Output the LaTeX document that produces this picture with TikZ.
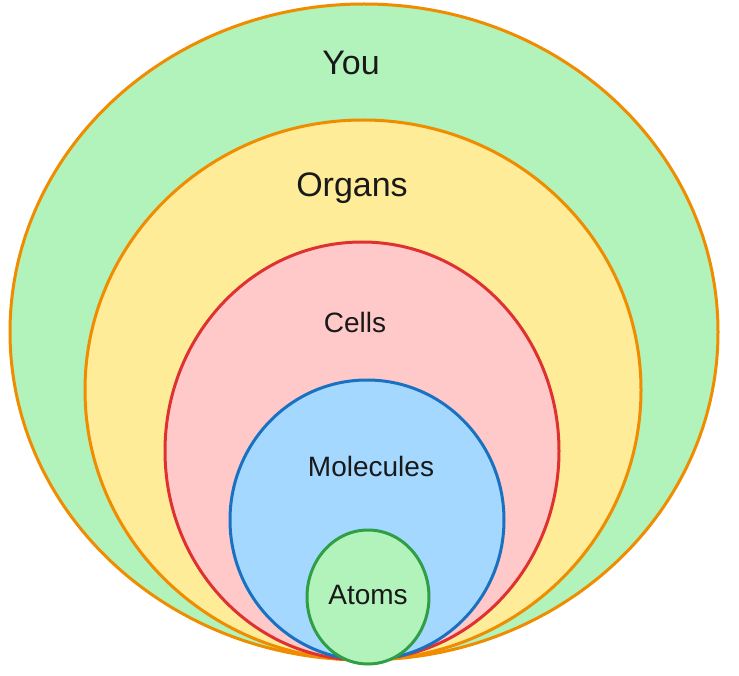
\documentclass[tikz,border=0pt]{standalone}
\usepackage{fontspec}
\setmainfont{Liberation Sans}
\definecolor{youfill}{HTML}{B2F2BB}
\definecolor{orgfill}{HTML}{FFEC99}
\definecolor{cellfill}{HTML}{FFC9C9}
\definecolor{molfill}{HTML}{A5D8FF}
\definecolor{atomfill}{HTML}{B2F2BB}
\definecolor{orangeline}{HTML}{F08C00}
\definecolor{redline}{HTML}{E03131}
\definecolor{blueline}{HTML}{1971C2}
\definecolor{greenline}{HTML}{2F9E44}
\begin{document}
\begin{tikzpicture}[x=1pt, y=-1pt, line width=3pt,
		bigtext/.style={font=\fontsize{34}{38}\selectfont, text=black!90},
		smalltext/.style={font=\fontsize{28}{32}\selectfont, text=black!90}]
		\useasboundingbox (0,0) rectangle (739,676);
		% nested levels, all touching at the bottom
		\draw[orangeline, fill=youfill] (364,332) ellipse (354 and 328);
		\draw[orangeline, fill=orgfill] (363,390) ellipse (278 and 270);
		\draw[redline, fill=cellfill] (362,451) ellipse (197 and 209);
		\draw[blueline, fill=molfill] (367,520) ellipse (137 and 140);
		\draw[greenline, fill=atomfill] (368,597) ellipse (61 and 67);
		% labels
		\node[bigtext] (you) at (351,63) {You};
		\node[bigtext] (organs) at (352,188) {Organs};
		\node[smalltext] (cells) at (355,322) {Cells};
		\node[smalltext] (molecules) at (371,466) {Molecules};
		\node[smalltext] (atoms) at (368,595) {Atoms};
	\end{tikzpicture}
\end{document}
